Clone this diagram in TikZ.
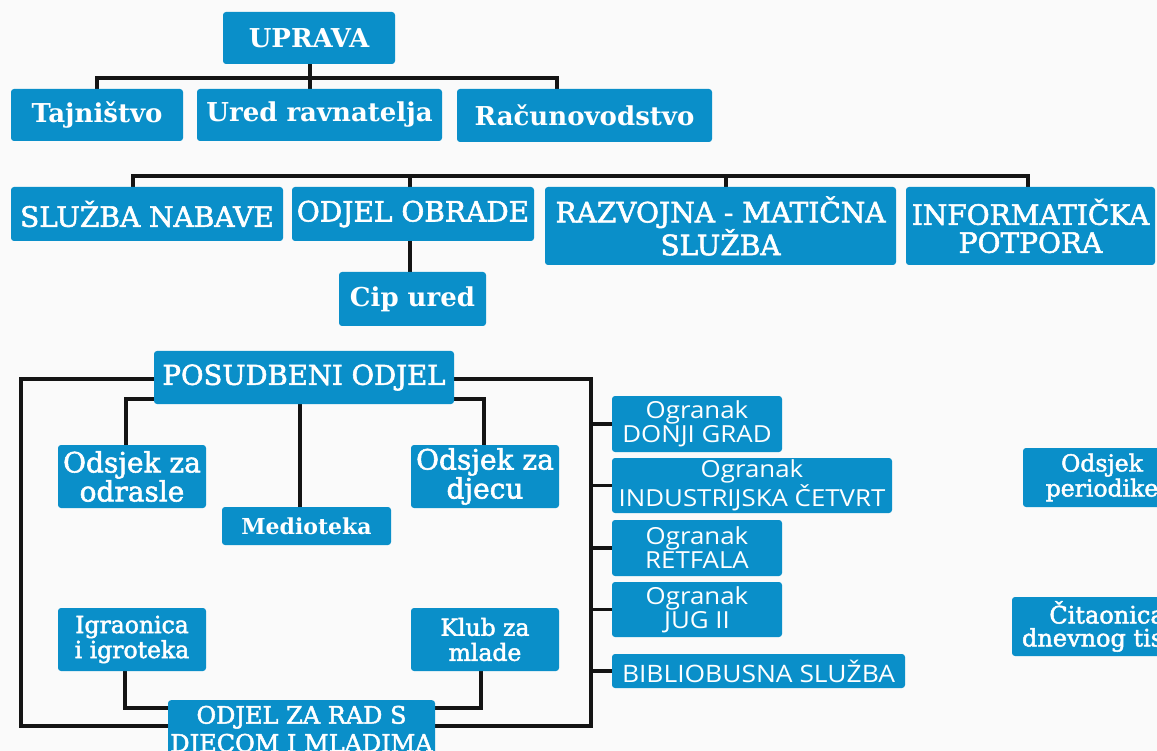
\documentclass[tikz,border=0pt]{standalone}
\usepackage{fontspec}
\setmainfont{DejaVu Serif}
\newfontfamily\slab{DejaVu Serif}
\newfontfamily\slabm{DejaVu Serif}[FakeBold=2]
\newfontfamily\lsans{Open Sans}[FakeStretch=1.1]
\usetikzlibrary{calc}
\pgfdeclarelayer{back}
\pgfdeclarelayer{wires}
\pgfsetlayers{back,wires,main}
\definecolor{boxblue}{RGB}{10,143,201}
\definecolor{paper}{RGB}{250,250,250}
\definecolor{wire}{RGB}{20,20,20}
\tikzset{
  box/.style={fill=boxblue, text=white, rounded corners=3pt, inner sep=0pt, align=center},
  tb/.style={font=\slab\bfseries\fontsize{26}{27}\selectfont},
  tr/.style={font=\slabm\fontsize{28}{28}\selectfont},
  tm/.style={font=\slabm\fontsize{28}{29}\selectfont},
  ts/.style={font=\lsans\fontsize{23.5}{24}\selectfont},
  conn/.style={draw=wire, line width=3.6pt, line join=miter},
  sz/.style n args={2}{minimum width=#1pt, minimum height=#2pt}
}
\begin{document}
\begin{tikzpicture}[x=1pt,y=-1pt]
\useasboundingbox (0,0) rectangle (1157,751);
\begin{pgfonlayer}{back}
\fill[paper] (0,0) rectangle (1157,751);
\end{pgfonlayer}
\clip (0,0) rectangle (1157,751);

% row 1
\node[box,tb,sz={172}{52}] (UPR) at (309,38) {UPRAVA};
\node[box,tb,sz={172}{52}] (TAJ) at (97,115) {Tajništvo};
\node[box,tb,sz={245}{52}] (URE) at (319.5,115) {Ured ravnatelja};
\node[box,tb,sz={255}{53}] (RAC) at (584.5,115.5) {Računovodstvo};

% row 2
\node[box,tr,sz={272}{54}] (SN) at (147,214) {SLUŽBA NABAVE};
\node[box,tr,sz={242}{54}] (OO) at (413,214) {ODJEL OBRADE};
\node[box,tr,sz={351}{78}] (RM) at (720.5,226) {RAZVOJNA - MATIČNA\\SLUŽBA};
\node[box,tr,sz={249}{78}] (IP) at (1030.5,226) {INFORMATIČKA\\POTPORA};
\node[box,tb,sz={147}{54}] (CIP) at (412.5,299) {Cip ured};

% posudbeni
\node[box,tr,font=\slabm\fontsize{27.5}{28}\selectfont,sz={300}{53}] (POS) at (304,377.5) {POSUDBENI ODJEL};
\node[box,tm,sz={148}{63}] (OZO) at (132,476.5) {Odsjek za\\odrasle};
\node[box,font=\slab\bfseries\fontsize{22}{24}\selectfont,sz={169}{38}] (MED) at (306.5,526) {Medioteka};
\node[box,tm,sz={148}{63}] (OZD) at (485,476.5) {Odsjek za\\djecu};
\node[box,font=\slabm\fontsize{23.5}{25}\selectfont,sz={148}{63}] (IGR) at (132,639.5) {Igraonica\\i igroteka};
\node[box,font=\slabm\fontsize{23.5}{25}\selectfont,sz={148}{63}] (KLB) at (485,639.5) {Klub za\\mlade};
\node[box,font=\slabm\fontsize{24}{28}\selectfont,sz={267}{62},anchor=north] (ODZ) at (301.5,700) {ODJEL ZA RAD S\\DJECOM I MLADIMA};

% ogranci
\node[box,ts,sz={170}{56}] (OG1) at (697,424) {Ogranak\\DONJI GRAD};
\node[box,ts,sz={280}{55}] (OG2) at (752,485.5) {Ogranak\\INDUSTRIJSKA ČETVRT};
\node[box,ts,sz={170}{56}] (OG3) at (697,548) {Ogranak\\RETFALA};
\node[box,ts,sz={170}{55}] (OG4) at (697,609.5) {Ogranak\\JUG II};
\node[box,ts,font=\lsans\fontsize{24}{24}\selectfont,sz={293}{34}] (BIB) at (758.5,671) {BIBLIOBUSNA SLUŽBA};

% right column
\node[box,font=\slabm\fontsize{23.5}{25}\selectfont,sz={158}{59}] (PER) at (1102,477.5) {Odsjek\\periodike};
\node[box,font=\slabm\fontsize{24}{23}\selectfont,sz={190}{59}] (CIT) at (1107,626.5) {Čitaonica\\dnevnog tiska};

% connectors
\coordinate (a1) at (97,78);
\coordinate (a2) at (557,78);
\coordinate (a3) at (310,78);
\coordinate (b1) at (133,176);
\coordinate (b2) at (410,176);
\coordinate (b3) at (726,176);
\coordinate (b4) at (1028,176);
\coordinate (ftl) at (21,379);
\coordinate (fbr) at (591,726);
\coordinate (il) at (126,399);
\coordinate (ir) at (484,399);
\coordinate (im) at (300,404);
\coordinate (bl) at (125,708);
\coordinate (br) at (481,708);
\begin{pgfonlayer}{wires}
\draw[conn] (TAJ.north) -- (a1) -- (a2) -- (RAC.north -| a2);
\draw[conn] (UPR.south -| a3) -- (URE.north -| a3);
\draw[conn] (SN.north -| b1) -- (b1) -- (b4) -- (IP.north -| b4);
\draw[conn] (b2) -- (OO.north -| b2);
\draw[conn] (b3) -- (RM.north -| b3);
\draw[conn] (OO.south -| b2) -- (CIP.north -| b2);
\draw[conn] (ftl) rectangle (fbr);
\draw[conn] (POS.west |- il) -- (il) -- (OZO.north -| il);
\draw[conn] (POS.east |- ir) -- (ir) -- (OZD.north -| ir);
\draw[conn] (im) -- (MED.north -| im);
\draw[conn] (IGR.south -| bl) -- (bl) -- (ODZ.west |- bl);
\draw[conn] (KLB.south -| br) -- (br) -- (ODZ.east |- br);
\draw[conn] (OG1.west) -- (OG1.west -| fbr);
\draw[conn] (OG2.west) -- (OG2.west -| fbr);
\draw[conn] (OG3.west) -- (OG3.west -| fbr);
\draw[conn] (OG4.west) -- (OG4.west -| fbr);
\draw[conn] (BIB.west) -- (BIB.west -| fbr);
\end{pgfonlayer}
\end{tikzpicture}
\end{document}
